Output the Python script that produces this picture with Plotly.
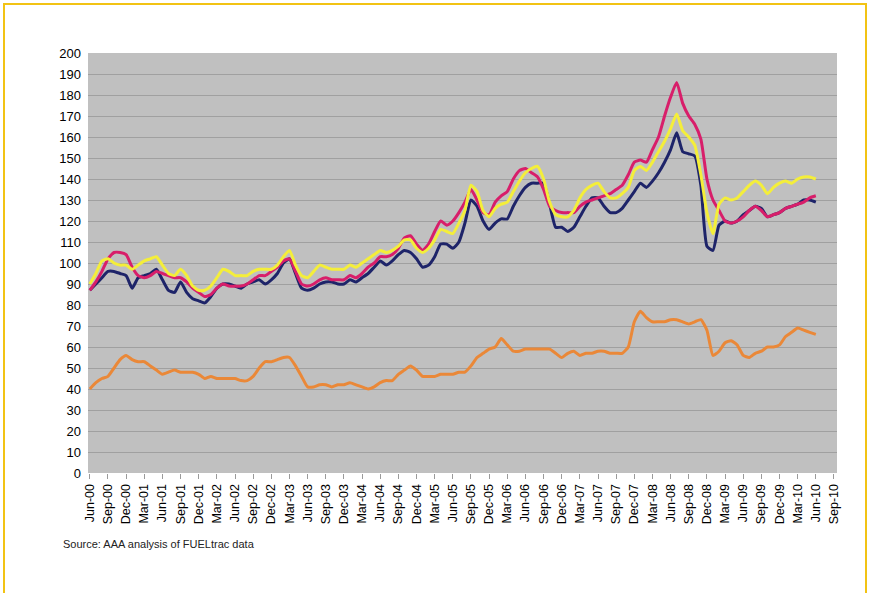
import plotly.graph_objects as go

# ---- data (monthly, Jun-00 .. Jun-10) ----
navy_series = [87, 90, 93, 96, 96, 95, 94, 88, 93, 94,
               95, 97, 92, 87, 86, 91, 86, 83, 82, 81,
               84, 88, 90, 90, 89, 88, 90, 91, 92, 90,
               92, 95, 100, 102, 95, 88, 87, 88, 90, 91,
               91, 90, 90, 92, 91, 93, 95, 98, 101, 99,
               101, 104, 106, 105, 102, 98, 99, 103, 109, 109,
               107, 110, 119, 130, 127, 120, 116, 119, 121, 121,
               127, 132, 136, 138, 138, 138, 128, 117, 117, 115,
               117, 122, 127, 131, 131, 127, 124, 124, 126, 130,
               134, 138, 136, 139, 143, 148, 154, 162, 153, 152,
               151, 137, 108, 106, 118, 120, 119, 120, 123, 125,
               127, 126, 122, 123, 124, 126, 127, 128, 130, 130,
               129]

magenta_series = [87, 91, 96, 102, 105, 105, 104, 98, 94, 93,
                  94, 96, 95, 94, 93, 93, 91, 88, 86, 84,
                  85, 88, 90, 89, 89, 89, 90, 92, 94, 94,
                  96, 98, 101, 102, 96, 90, 89, 90, 92, 93,
                  92, 92, 92, 94, 93, 95, 98, 100, 103, 103,
                  104, 107, 112, 113, 109, 106, 109, 115, 120, 118,
                  120, 124, 129, 135, 130, 124, 123, 129, 132, 134,
                  140, 144, 145, 143, 141, 135, 127, 125, 124, 124,
                  124, 127, 129, 130, 131, 132, 133, 135, 137, 142,
                  148, 149, 148, 154, 160, 170, 179, 186, 176, 170,
                  166, 159, 140, 130, 125, 120, 119, 120, 122, 125,
                  127, 125, 122, 123, 124, 126, 127, 128, 129, 131,
                  132]

yellow_series = [90, 95, 101, 102, 100, 99, 99, 97, 99, 101,
                 102, 103, 99, 95, 94, 97, 94, 89, 87, 87,
                 89, 93, 97, 96, 94, 94, 94, 96, 97, 97,
                 97, 99, 103, 106, 99, 94, 93, 96, 99, 98,
                 97, 97, 97, 99, 98, 100, 102, 104, 106, 105,
                 106, 108, 111, 111, 107, 105, 107, 111, 116, 115,
                 114, 119, 125, 137, 134, 125, 122, 126, 128, 129,
                 134, 139, 143, 145, 146, 140, 129, 123, 122, 122,
                 125, 131, 135, 137, 138, 134, 131, 131, 133, 136,
                 144, 146, 144, 148, 153, 158, 164, 171, 163, 160,
                 156, 142, 124, 114, 128, 131, 130, 131, 134, 137,
                 139, 137, 133, 136, 138, 139, 138, 140, 141, 141,
                 140]

orange_series = [40, 43, 45, 46, 50, 54, 56, 54, 53, 53,
                 51, 49, 47, 48, 49, 48, 48, 48, 47, 45,
                 46, 45, 45, 45, 45, 44, 44, 46, 50, 53,
                 53, 54, 55, 55, 51, 46, 41, 41, 42, 42,
                 41, 42, 42, 43, 42, 41, 40, 41, 43, 44,
                 44, 47, 49, 51, 49, 46, 46, 46, 47, 47,
                 47, 48, 48, 51, 55, 57, 59, 60, 64, 61,
                 58, 58, 59, 59, 59, 59, 59, 57, 55, 57,
                 58, 56, 57, 57, 58, 58, 57, 57, 57, 60,
                 72, 77, 74, 72, 72, 72, 73, 73, 72, 71,
                 72, 73, 68, 56, 58, 62, 63, 61, 56, 55,
                 57, 58, 60, 60, 61, 65, 67, 69, 68, 67,
                 66]

tick_labels = ["Jun-00", "Sep-00", "Dec-00", "Mar-01", "Jun-01", "Sep-01", "Dec-01",
               "Mar-02", "Jun-02", "Sep-02", "Dec-02", "Mar-03", "Jun-03", "Sep-03",
               "Dec-03", "Mar-04", "Jun-04", "Sep-04", "Dec-04", "Mar-05", "Jun-05",
               "Sep-05", "Dec-05", "Mar-06", "Jun-06", "Sep-06", "Dec-06", "Mar-07",
               "Jun-07", "Sep-07", "Dec-07", "Mar-08", "Jun-08", "Sep-08", "Dec-08",
               "Mar-09", "Jun-09", "Sep-09", "Dec-09", "Mar-10", "Jun-10", "Sep-10"]

y_ticks = list(range(0, 201, 10))
source_text = "Source: AAA analysis of FUELtrac data"

# monthly categories Jun-00 .. Sep-10
month_names = ["Jan", "Feb", "Mar", "Apr", "May", "Jun",
               "Jul", "Aug", "Sep", "Oct", "Nov", "Dec"]
months = []
for k in range(124):
    m = (5 + k) % 12
    yr = 2000 + (5 + k) // 12
    months.append(f"{month_names[m]}-{yr % 100:02d}")

fig = go.Figure()
series = [
    (navy_series, "#1E2469"),
    (magenta_series, "#D81E6A"),
    (yellow_series, "#F4EE3A"),
    (orange_series, "#EA8838"),
]
for vals, col in series:
    fig.add_trace(go.Scatter(
        x=months[:len(vals)], y=vals, mode="lines",
        line=dict(color=col, width=3, shape="spline", smoothing=0.5),
        showlegend=False, hoverinfo="skip"))

W, H = 880, 593
ml, mr, mt, mb = 88, 43, 53, 120
pw, ph = W - ml - mr, H - mt - mb


def px(x):
    return (x - ml) / pw


def py(y):
    return (H - mb - y) / ph


fig.update_layout(
    width=W, height=H,
    margin=dict(l=ml, r=mr, t=mt, b=mb, pad=0),
    paper_bgcolor="white",
    plot_bgcolor="#C0C0C0",
    font=dict(family="Liberation Sans, Arial, sans-serif", color="#111111"),
    hovermode=False,
    xaxis=dict(
        type="category",
        categoryorder="array", categoryarray=months,
        range=[-0.3, 123.5],
        tickmode="array", tickvals=tick_labels, ticktext=tick_labels,
        tickangle=-90,
        tickfont=dict(size=12.5, color="#000000"),
        ticks="outside", ticklen=5, tickcolor="#9a9a9a",
        showgrid=False, zeroline=False, showline=False,
    ),
    yaxis=dict(
        range=[0, 200],
        tickmode="array", tickvals=y_ticks,
        tickfont=dict(size=13, color="#000000"),
        showgrid=True, gridcolor="#A0A0A0", gridwidth=1,
        zeroline=False, showline=False, ticks="",
        ticklabelstandoff=6,
    ),
    shapes=[
        dict(type="rect", xref="paper", yref="paper",
             x0=px(4), x1=px(866), y0=py(640), y1=py(4),
             line=dict(color="#F2C314", width=2), fillcolor="rgba(0,0,0,0)",
             layer="below"),
    ],
    annotations=[
        dict(text=source_text, xref="paper", yref="paper",
             x=px(61), y=py(544), xanchor="left", yanchor="middle",
             showarrow=False, font=dict(size=11, color="#222222")),
    ],
)

fig.write_html("out.html",
               config={"displayModeBar": False},
               post_script="document.body.style.margin='0';document.body.style.overflow='hidden';")
